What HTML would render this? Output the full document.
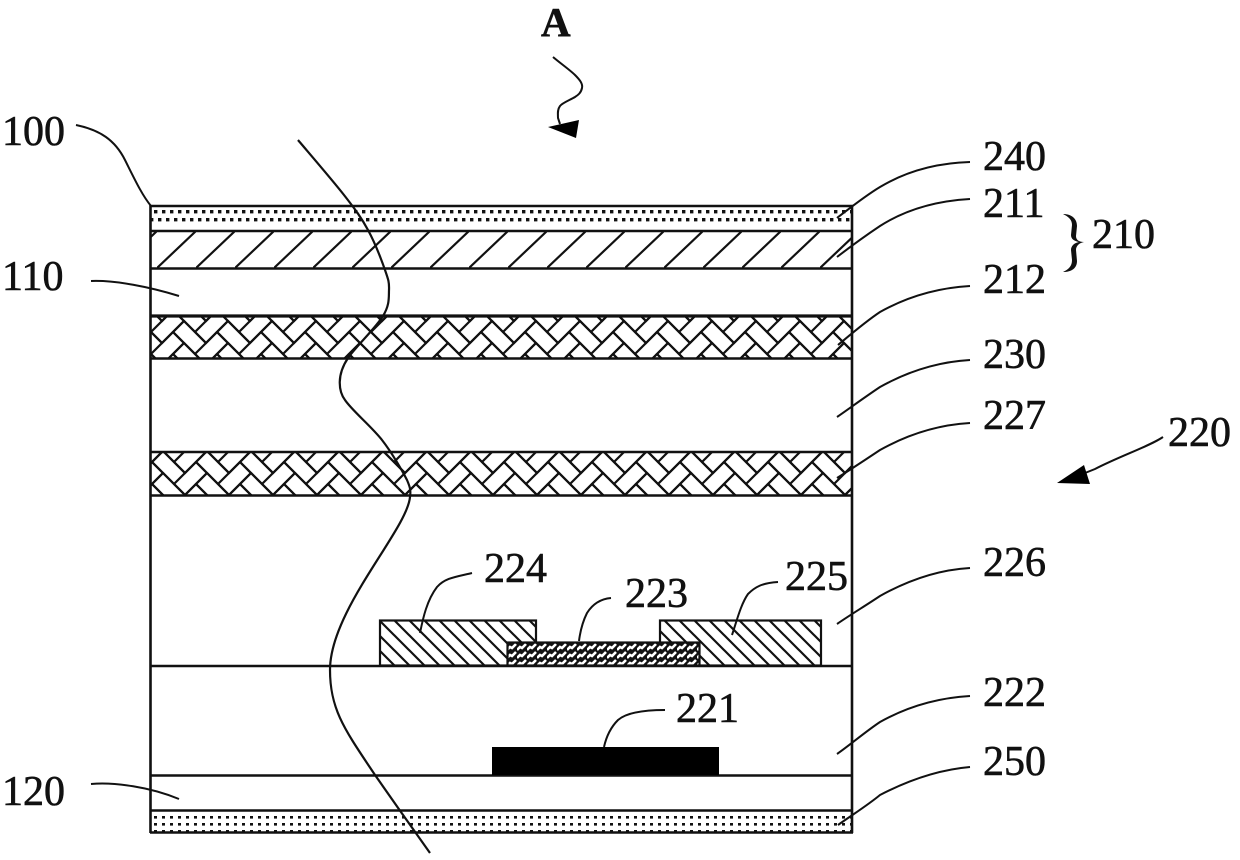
<!DOCTYPE html>
<html><head><meta charset="utf-8"><style>
html,body{margin:0;padding:0;background:#fff}
svg{display:block}
text{font-family:"Liberation Serif",serif;font-size:42px;fill:#111;stroke:#111;stroke-width:.6px}
</style></head><body>
<svg width="1240" height="860" viewBox="0 0 1240 860" xmlns="http://www.w3.org/2000/svg">
<defs>
<path id="hb" d="M0 0L22 22L11 33L-11 11L0 0M33 11L44 22L22 44L11 33L33 11" fill="none" stroke="#111" stroke-width="2.2"/>
<g id="hbr"><use href="#hb" y="-44"/><use href="#hb" y="-22"/><use href="#hb"/><use href="#hb" y="22"/></g>
<pattern id="herr" patternUnits="userSpaceOnUse" width="44" height="22" x="184" y="321">
<use href="#hbr" x="-44"/><use href="#hbr"/><use href="#hbr" x="44"/>
</pattern>
<pattern id="herr2" patternUnits="userSpaceOnUse" width="44" height="22" x="163" y="451">
<use href="#hbr" x="-44"/><use href="#hbr"/><use href="#hbr" x="44"/>
</pattern>
<pattern id="h211" patternUnits="userSpaceOnUse" width="39" height="37" x="157" y="231">
<path d="M0 37L39 0" stroke="#111" stroke-width="2.2" fill="none"/>
</pattern>
<pattern id="hb224" patternUnits="userSpaceOnUse" width="15" height="15" x="379" y="620">
<path d="M0 0L15 15M-7 8L7 22M8 -7L22 7" stroke="#111" stroke-width="2.2" fill="none"/>
</pattern>
<pattern id="wave" patternUnits="userSpaceOnUse" width="10" height="8" x="507" y="643">
<rect width="10" height="8" fill="#111"/>
<path d="M0 7L3 4L5 5L9 1" stroke="#fff" stroke-width="2.6" fill="none"/>
</pattern>
<pattern id="dots" patternUnits="userSpaceOnUse" width="16" height="8" x="153" y="209">
<rect x="1" y="1" width="3.4" height="3.4" fill="#111"/><rect x="9" y="1" width="3.4" height="3.4" fill="#111"/>
</pattern>
<pattern id="dots1b" patternUnits="userSpaceOnUse" width="16" height="8" x="157" y="217">
<rect x="1" y="1" width="3.4" height="3.4" fill="#111"/><rect x="9" y="1" width="3.4" height="3.4" fill="#111"/>
</pattern>
<pattern id="dots2" patternUnits="userSpaceOnUse" width="16" height="7" x="153" y="815">
<rect x="1" y="1" width="3" height="2.6" fill="#111"/><rect x="9" y="1" width="3" height="2.6" fill="#111"/>
</pattern>
</defs>

<!-- fills -->
<rect x="151" y="209" width="701" height="5" fill="url(#dots)"/>
<rect x="151" y="217" width="701" height="5" fill="url(#dots1b)"/>
<rect x="151" y="225" width="701" height="3" fill="url(#dots2)"/>
<rect x="151" y="231" width="701" height="37" fill="url(#h211)"/>
<rect x="151" y="316" width="701" height="42" fill="url(#herr)"/>
<rect x="151" y="452" width="701" height="43" fill="url(#herr2)"/>
<rect x="151" y="814" width="701" height="18" fill="url(#dots2)"/>

<!-- layer lines -->
<g stroke="#111" fill="none">
<path d="M150.5 205V833M852 205V833" stroke-width="2.6"/>
<path d="M150 206H853M150 231H853M150 268.500H853M150 358.500H853M150 452H853M150 495.500H853M150 666H853M150 775.500H853M150 810.500H853M150 832.500H853" stroke-width="2.6"/>
<path d="M150 316H853" stroke-width="3.2"/>
</g>

<!-- TFT -->
<rect x="380" y="620.500" width="156" height="45" fill="url(#hb224)" stroke="#111" stroke-width="2.2"/>
<rect x="660" y="620.500" width="161" height="45" fill="url(#hb224)" stroke="#111" stroke-width="2.2"/>
<rect x="507.500" y="642.500" width="192" height="23" fill="url(#wave)" stroke="#111" stroke-width="2.2"/>
<rect x="492" y="747" width="227" height="28" fill="#000"/>

<!-- wavy cut line -->
<path d="M298 140C305.700 149.200 332.300 180 344 195C355.700 210 361.200 217.500 368 230C374.800 242.500 381.500 260 385 270C388.500 280 389.300 282.300 389 290C388.700 297.700 389.800 304.700 383 316C376.200 327.300 355 347.700 348 358C336 376 339 392 345 400C351.800 410.300 371.700 426.700 382 440C392.300 453.300 402.300 470.800 407 480C410 487 411 490 410 497C407 530 330 610 330 670C330 710 345 730 375 775C389.200 795.500 420.800 840 430 853" fill="none" stroke="#111" stroke-width="2.2" stroke-linejoin="round"/>

<!-- leader lines -->
<g fill="none" stroke="#111" stroke-width="2">
<path d="M76 125C100 130 115 140 125 160C135 180 142 195 151 206"/>
<path d="M91 281C115 280 150 287 179 296"/>
<path d="M91 784C115 782 150 787 179 799"/>
<path d="M970 162C935 163 905 172 880 187C865 196 850 208 837 218"/>
<path d="M970 199C935 201 905 210 880 226C865 236 850 247 837 257"/>
<path d="M970 286C935 288 905 298 880 312C865 322 850 335 838 345"/>
<path d="M970 360C935 362 905 373 880 387C865 397 850 408 837 417"/>
<path d="M970 423C935 425 905 436 880 450C865 460 850 470 837 478"/>
<path d="M970 568C935 570 905 582 880 596C865 606 850 615 837 624"/>
<path d="M970 696C935 698 905 708 880 722C865 732 850 745 837 754"/>
<path d="M970 767C935 770 905 782 880 795C868 805 852 815 838 825"/>
<path d="M472 573C455 577 445 578 437 587C427 600 423 618 420 633"/>
<path d="M778 582C762 583 755 587 748 594C741 604 737 620 732 635"/>
<path d="M611 598C600 599 592 605 587 613C582 623 580 633 579 641"/>
<path d="M665 710C640 710 625 714 618 720C610 728 606 738 604 747"/>
</g>

<!-- A arrow -->
<path d="M553 57C560 63 570 70 575 75C580 80 583 84 582 88C581 93 578 95 575 97C570 100 562 103 560 106C557 110 558 115 558 118L560 124" fill="none" stroke="#111" stroke-width="2"/>
<path d="M548 127L579 120L576 138Z" fill="#000"/>

<!-- 220 arrow -->
<path d="M1163 437C1150 446 1120 456 1095 469L1085 473" fill="none" stroke="#111" stroke-width="2"/>
<path d="M1057 483L1084 465L1090 484Z" fill="#000"/>

<!-- brace -->
<path d="M1063 214C1072 214 1077 219 1077 226L1076 236C1076 240 1079 242 1084 242C1079 243 1076 246 1076 250L1077 261C1077 268 1072 272 1063 272C1069 269 1072 266 1072 260L1071 250C1071 246 1074 243 1079 242C1074 241 1071 239 1071 235L1072 225C1072 220 1069 217 1063 214Z" fill="#111"/>

<!-- labels -->
<text x="541" y="36" style="font-weight:bold;font-size:41px">A</text>
<text x="2" y="145">100</text>
<text x="2" y="290">110</text>
<text x="2" y="805">120</text>
<text x="983" y="170">240</text>
<text x="983" y="217">211</text>
<text x="1092" y="248">210</text>
<text x="983" y="293">212</text>
<text x="983" y="368">230</text>
<text x="983" y="429">227</text>
<text x="1168" y="446">220</text>
<text x="983" y="576">226</text>
<text x="484" y="582">224</text>
<text x="785" y="590">225</text>
<text x="625" y="607">223</text>
<text x="983" y="706">222</text>
<text x="676" y="722">221</text>
<text x="983" y="775">250</text>
</svg>
</body></html>
